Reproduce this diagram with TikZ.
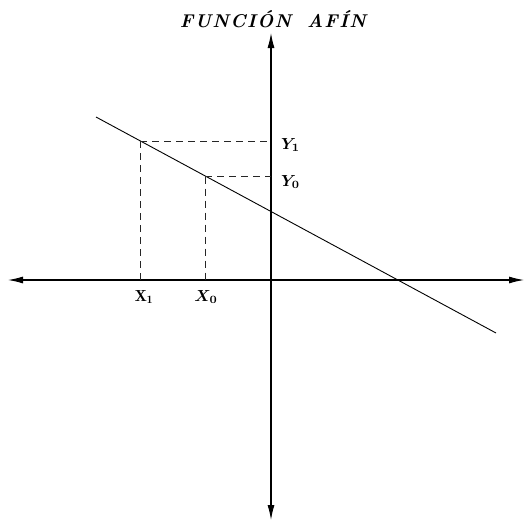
\documentclass[tikz,border=0pt]{standalone}
\usepackage{fontspec}
\usepackage{amsmath,bm}
\usepackage{graphicx}
\usetikzlibrary{arrows.meta}
\newcommand{\lk}{\kern1.4pt}
\begin{document}
\begin{tikzpicture}[x=1pt,y=-1pt,
  axis/.style={line width=1.1pt,{Latex[length=15pt,width=7pt]}-{Latex[length=15pt,width=7pt]}},
  guide/.style={line width=0.8pt,dash pattern=on 7pt off 5pt,gray!30!black},
  fline/.style={line width=0.9pt},
  lbl/.style={inner sep=0pt}]
\useasboundingbox (0,0) rectangle (525,522);
% axes
\coordinate (xl) at (8,280);
\coordinate (xr) at (524,280);
\coordinate (yt) at (271,33);
\coordinate (yb) at (271,520);
\draw[axis] (xl) -- (xr);
\draw[axis] (yt) -- (yb);
% function line
\coordinate (la) at (96,117);
\coordinate (lb) at (496,333);
\draw[fline] (la) -- (lb);
% points
\coordinate (p1) at (140,141);
\coordinate (p0) at (205,176.5);
\coordinate (x1) at (140,280);
\coordinate (x0) at (205,280);
\coordinate (y1) at (271,141);
\coordinate (y0) at (271,176.5);
\draw[guide] (p1) -- (y1);
\draw[guide] (p1) -- (x1);
\draw[guide] (p0) -- (y0);
\draw[guide] (p0) -- (x0);
% labels
\node[lbl,anchor=west] (ly1) at (281,145) {\scalebox{1.6}{$\bm{Y_1}$}};
\node[lbl,anchor=west] (ly0) at (281,182) {\scalebox{1.6}{$\bm{Y_0}$}};
\node[lbl] (lx1) at (144,297) {\scalebox{1.6}{$\mathbf{X_1}$}};
\node[lbl] (lx0) at (206,297) {\scalebox{1.6}{$\bm{X_0}$}};
\node[inner sep=0pt,font=\fontsize{18.5}{21}\selectfont\bfseries\itshape] (title) at (273,19) {F\lk U\lk N\lk C\lk I\lk Ó\lk N\hspace{16pt}A\lk F\lk Í\lk N};
\end{tikzpicture}
\end{document}
